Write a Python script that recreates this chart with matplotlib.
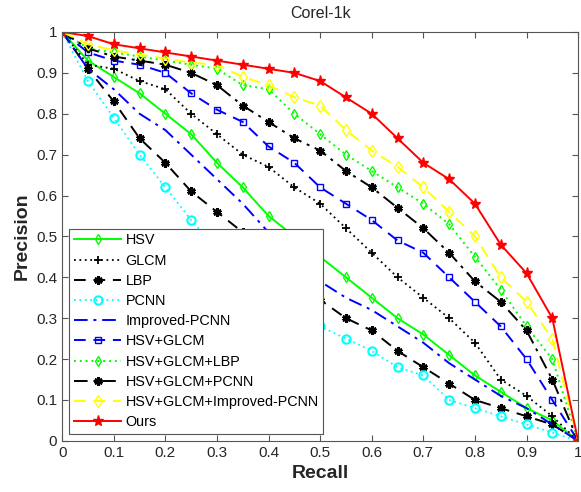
import numpy as np
import matplotlib.pyplot as plt

plt.rcParams['font.family'] = ['Liberation Sans', 'DejaVu Sans']

recall = [0, 0.05, 0.1, 0.15, 0.2, 0.25, 0.3, 0.35, 0.4, 0.45, 0.5,
          0.55, 0.6, 0.65, 0.7, 0.75, 0.8, 0.85, 0.9, 0.95, 1]

hsv = [1, 0.93, 0.89, 0.85, 0.80, 0.75, 0.68, 0.62, 0.55, 0.50, 0.45,
       0.40, 0.35, 0.30, 0.26, 0.21, 0.16, 0.12, 0.08, 0.05, 0]
glcm = [1, 0.92, 0.91, 0.88, 0.86, 0.80, 0.75, 0.70, 0.67, 0.62, 0.58,
        0.52, 0.46, 0.40, 0.35, 0.30, 0.24, 0.15, 0.11, 0.06, 0]
lbp = [1, 0.91, 0.83, 0.74, 0.68, 0.61, 0.56, 0.51, 0.45, 0.40, 0.345,
       0.30, 0.27, 0.22, 0.18, 0.14, 0.10, 0.08, 0.06, 0.04, 0]
pcnn = [1, 0.88, 0.79, 0.70, 0.62, 0.54, 0.47, 0.41, 0.36, 0.32, 0.28,
        0.25, 0.22, 0.18, 0.16, 0.10, 0.08, 0.06, 0.04, 0.02, 0]
improved_pcnn = [1, 0.91, 0.86, 0.80, 0.76, 0.70, 0.64, 0.58, 0.51, 0.45, 0.39,
                 0.35, 0.32, 0.28, 0.24, 0.19, 0.15, 0.11, 0.08, 0.04, 0]
hsv_glcm = [1, 0.95, 0.93, 0.92, 0.90, 0.85, 0.81, 0.78, 0.72, 0.68, 0.62,
            0.58, 0.54, 0.49, 0.46, 0.40, 0.34, 0.28, 0.20, 0.10, 0]
hsv_glcm_lbp = [1, 0.96, 0.95, 0.94, 0.93, 0.92, 0.91, 0.87, 0.86, 0.80, 0.75,
                0.70, 0.66, 0.62, 0.58, 0.53, 0.45, 0.37, 0.28, 0.20, 0]
hsv_glcm_pcnn = [1, 0.96, 0.94, 0.93, 0.92, 0.90, 0.87, 0.82, 0.78, 0.74, 0.71,
                 0.66, 0.62, 0.57, 0.52, 0.46, 0.39, 0.34, 0.27, 0.15, 0]
hsv_glcm_ipcnn = [1, 0.97, 0.955, 0.945, 0.935, 0.925, 0.92, 0.89, 0.87, 0.84, 0.82,
                  0.76, 0.71, 0.67, 0.62, 0.56, 0.50, 0.40, 0.34, 0.25, 0]
ours = [1, 0.99, 0.97, 0.96, 0.95, 0.94, 0.93, 0.92, 0.91, 0.90, 0.88,
        0.84, 0.80, 0.74, 0.68, 0.64, 0.58, 0.48, 0.41, 0.30, 0]

labels = ['HSV', 'GLCM', 'LBP', 'PCNN', 'Improved-PCNN', 'HSV+GLCM',
          'HSV+GLCM+LBP', 'HSV+GLCM+PCNN', 'HSV+GLCM+Improved-PCNN', 'Ours']

dash = (0, (6, 4))
dashdot = (0, (7, 3, 1.5, 3))
dot = (0, (1, 2))
aster = (6, 2, 0)

fig = plt.figure(figsize=(5.81, 4.92), dpi=100)
ax = fig.add_axes([0.107, 0.104, 0.888, 0.831])

ax.plot(recall, hsv, '-', color=(0, 1, 0), marker='d', mfc='none', ms=5.5, lw=1.4, label=labels[0])
ax.plot(recall, glcm, linestyle=dot, color='k', marker='+', ms=6, mew=1.3, lw=1.3, label=labels[1])
ax.plot(recall, lbp, linestyle=dash, color='k', marker=aster, ms=6, mew=2, lw=1.4, label=labels[2])
ax.plot(recall, pcnn, linestyle=dot, color=(0, 1, 1), marker='o', mfc='none', ms=6, mew=1.5, lw=1.3, label=labels[3])
ax.plot(recall, improved_pcnn, linestyle=dashdot, color=(0, 0, 1), lw=1.4, label=labels[4])
ax.plot(recall, hsv_glcm, linestyle=dash, color=(0, 0, 1), marker='s', mfc='none', ms=5, lw=1.4, label=labels[5])
ax.plot(recall, hsv_glcm_lbp, linestyle=dot, color=(0, 1, 0), marker='d', mfc='none', ms=5.5, lw=1.4, label=labels[6])
ax.plot(recall, hsv_glcm_pcnn, linestyle=dashdot, color='k', marker=aster, ms=6, mew=2, lw=1.4, label=labels[7])
ax.plot(recall, hsv_glcm_ipcnn, linestyle=dash, color=(1, 1, 0), marker='d', mfc='none', ms=6.5, lw=1.4, label=labels[8])
ax.plot(recall, ours, '-', color=(1, 0, 0), marker='*', ms=8, lw=1.4, label=labels[9])

ax.set_xlim(0, 1)
ax.set_ylim(0, 1)
ticks = np.round(np.arange(0, 1.01, 0.1), 1)
ticklabels = ['0'] + ['%.1f' % t for t in ticks[1:-1]] + ['1']
ax.set_xticks(ticks)
ax.set_xticklabels(ticklabels)
ax.set_yticks(ticks)
ax.set_yticklabels(ticklabels)
ax.tick_params(direction='in', top=True, right=True, labelsize=11, colors='#555555',
               labelcolor='#262626', length=4)
for s in ax.spines.values():
    s.set_color('#555555')
    s.set_linewidth(0.8)

ax.set_xlabel('Recall', fontsize=14, fontweight='bold', color='#262626')
ax.set_ylabel('Precision', fontsize=14, fontweight='bold', color='#262626')
ax.set_title('Corel-1k', fontsize=11.5, color='#262626', pad=10)

leg = ax.legend(loc='lower left', fontsize=10.4, frameon=True, fancybox=False,
                framealpha=1, edgecolor='#555555', handlelength=3.3, borderaxespad=0.5,
                labelspacing=0.43, borderpad=0.3, handletextpad=0.3)
leg.get_frame().set_linewidth(0.8)

fig.savefig('out.png', dpi=100)
